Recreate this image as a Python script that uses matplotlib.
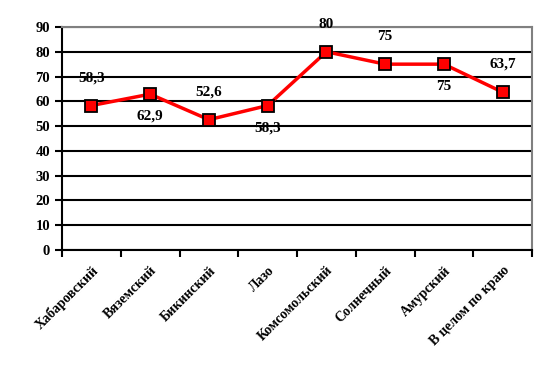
import matplotlib
matplotlib.use("Agg")
import matplotlib.pyplot as plt
import numpy as np

# Data
districts = ["Хабаровский", "Вяземский", "Бикинский", "Лазо",
             "Комсомольский", "Солнечный", "Амурский", "В целом по краю"]
values = [58.3, 62.9, 52.6, 58.3, 80, 75, 75, 63.7]
value_labels = ["58,3", "62,9", "52,6", "58,3", "80", "75", "75", "63,7"]
label_above = [True, False, True, False, True, True, False, True]

plt.rcParams['font.family'] = ['Liberation Serif', 'DejaVu Serif']

fig = plt.figure(figsize=(5.43, 3.71), dpi=100)
ax = fig.add_axes([62 / 543, 1 - 250 / 371, 470 / 543, 223 / 371])

x = np.arange(len(districts))
ax.plot(x, values, color='#ff0000', linewidth=2.5, marker='s', markersize=8.5,
        markerfacecolor='#ff0000', markeredgecolor='black', markeredgewidth=1.3,
        zorder=3)

for xi, v, lab, up in zip(x, values, value_labels, label_above):
    dy = 20 if up else -16
    ax.annotate(lab, (xi, v), xytext=(0, dy), textcoords='offset points',
                ha='center', va='center', fontsize=11, fontweight='bold')

ax.set_xlim(-0.5, len(districts) - 0.5)
ax.set_ylim(0, 90)
ax.set_yticks(range(0, 91, 10))
ax.yaxis.grid(True, color='black', linewidth=1.5)
ax.set_axisbelow(True)

ax.set_xticks(np.arange(-0.5, len(districts), 1))
ax.set_xticklabels([])
ax.set_xticks(x, minor=True)
ax.set_xticklabels(districts, minor=True, rotation=45, ha='right',
                   rotation_mode='anchor', fontsize=10, fontweight='bold')
ax.tick_params(axis='x', which='minor', length=0, pad=10)
ax.tick_params(axis='x', which='major', length=5, width=1.5, direction='out')
ax.tick_params(axis='y', length=5, width=1.5, direction='out', labelsize=10.5)
for t in ax.get_yticklabels():
    t.set_fontweight('bold')

ax.spines['left'].set_color('black')
ax.spines['left'].set_linewidth(1.5)
ax.spines['bottom'].set_color('black')
ax.spines['bottom'].set_linewidth(1.5)
ax.spines['top'].set_color('#808080')
ax.spines['top'].set_linewidth(1.5)
ax.spines['right'].set_color('#808080')
ax.spines['right'].set_linewidth(1.5)

fig.savefig("out.png", dpi=100)
